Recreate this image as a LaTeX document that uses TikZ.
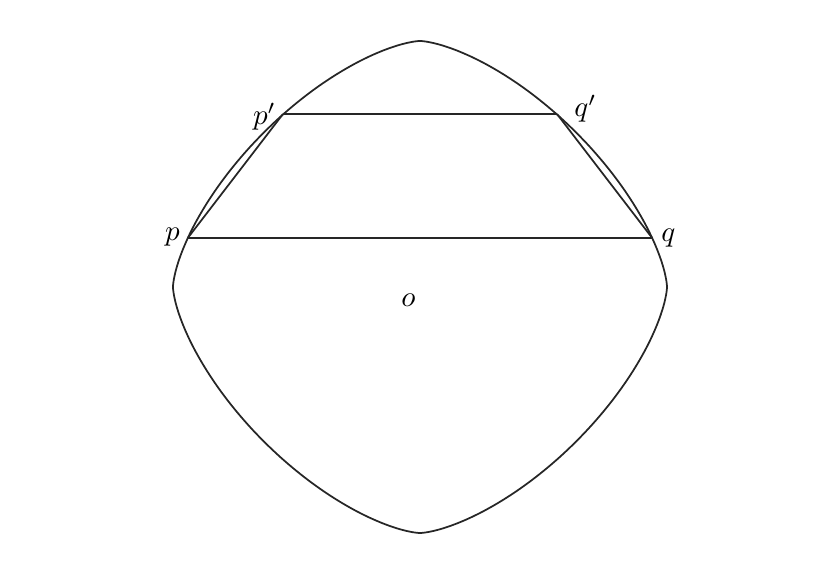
\documentclass[tikz,border=0pt]{standalone}
\begin{document}
\begin{tikzpicture}[x=0.0121cm,y=0.0121cm,line width=0.6pt,color=black!85]
	\useasboundingbox (-420,-287) rectangle (420,287);
	\draw plot[domain=0.45:360.45,samples=401,variable=\t] ({247*cos(\t)*abs(cos(\t))^(1/3)},{246*sin(\t)*abs(sin(\t))^(1/3)}) -- cycle;

	\coordinate (p) at (-232.2,49);
	\coordinate (q) at (232.2,49);
	\coordinate (pp) at (-137,173);
	\coordinate (qq) at (137,173);

	\node[text=black] at (-247.5,50) (lp) {$p$};
	\node[text=black] at (248.5,49) (lq) {$q$};
	\node[text=black] at (-155.5,170.5) (lpp) {$p'$};
	\node[text=black] at (165.5,178.5) (lqq) {$q'$};
	\node[text=black] at (-11.5,-13) (o) {$o$};

	\draw (p)-- (q);
	\draw (pp)-- (qq);
	\draw (p)-- (pp);
	\draw (q)-- (qq);
\end{tikzpicture}
\end{document}
